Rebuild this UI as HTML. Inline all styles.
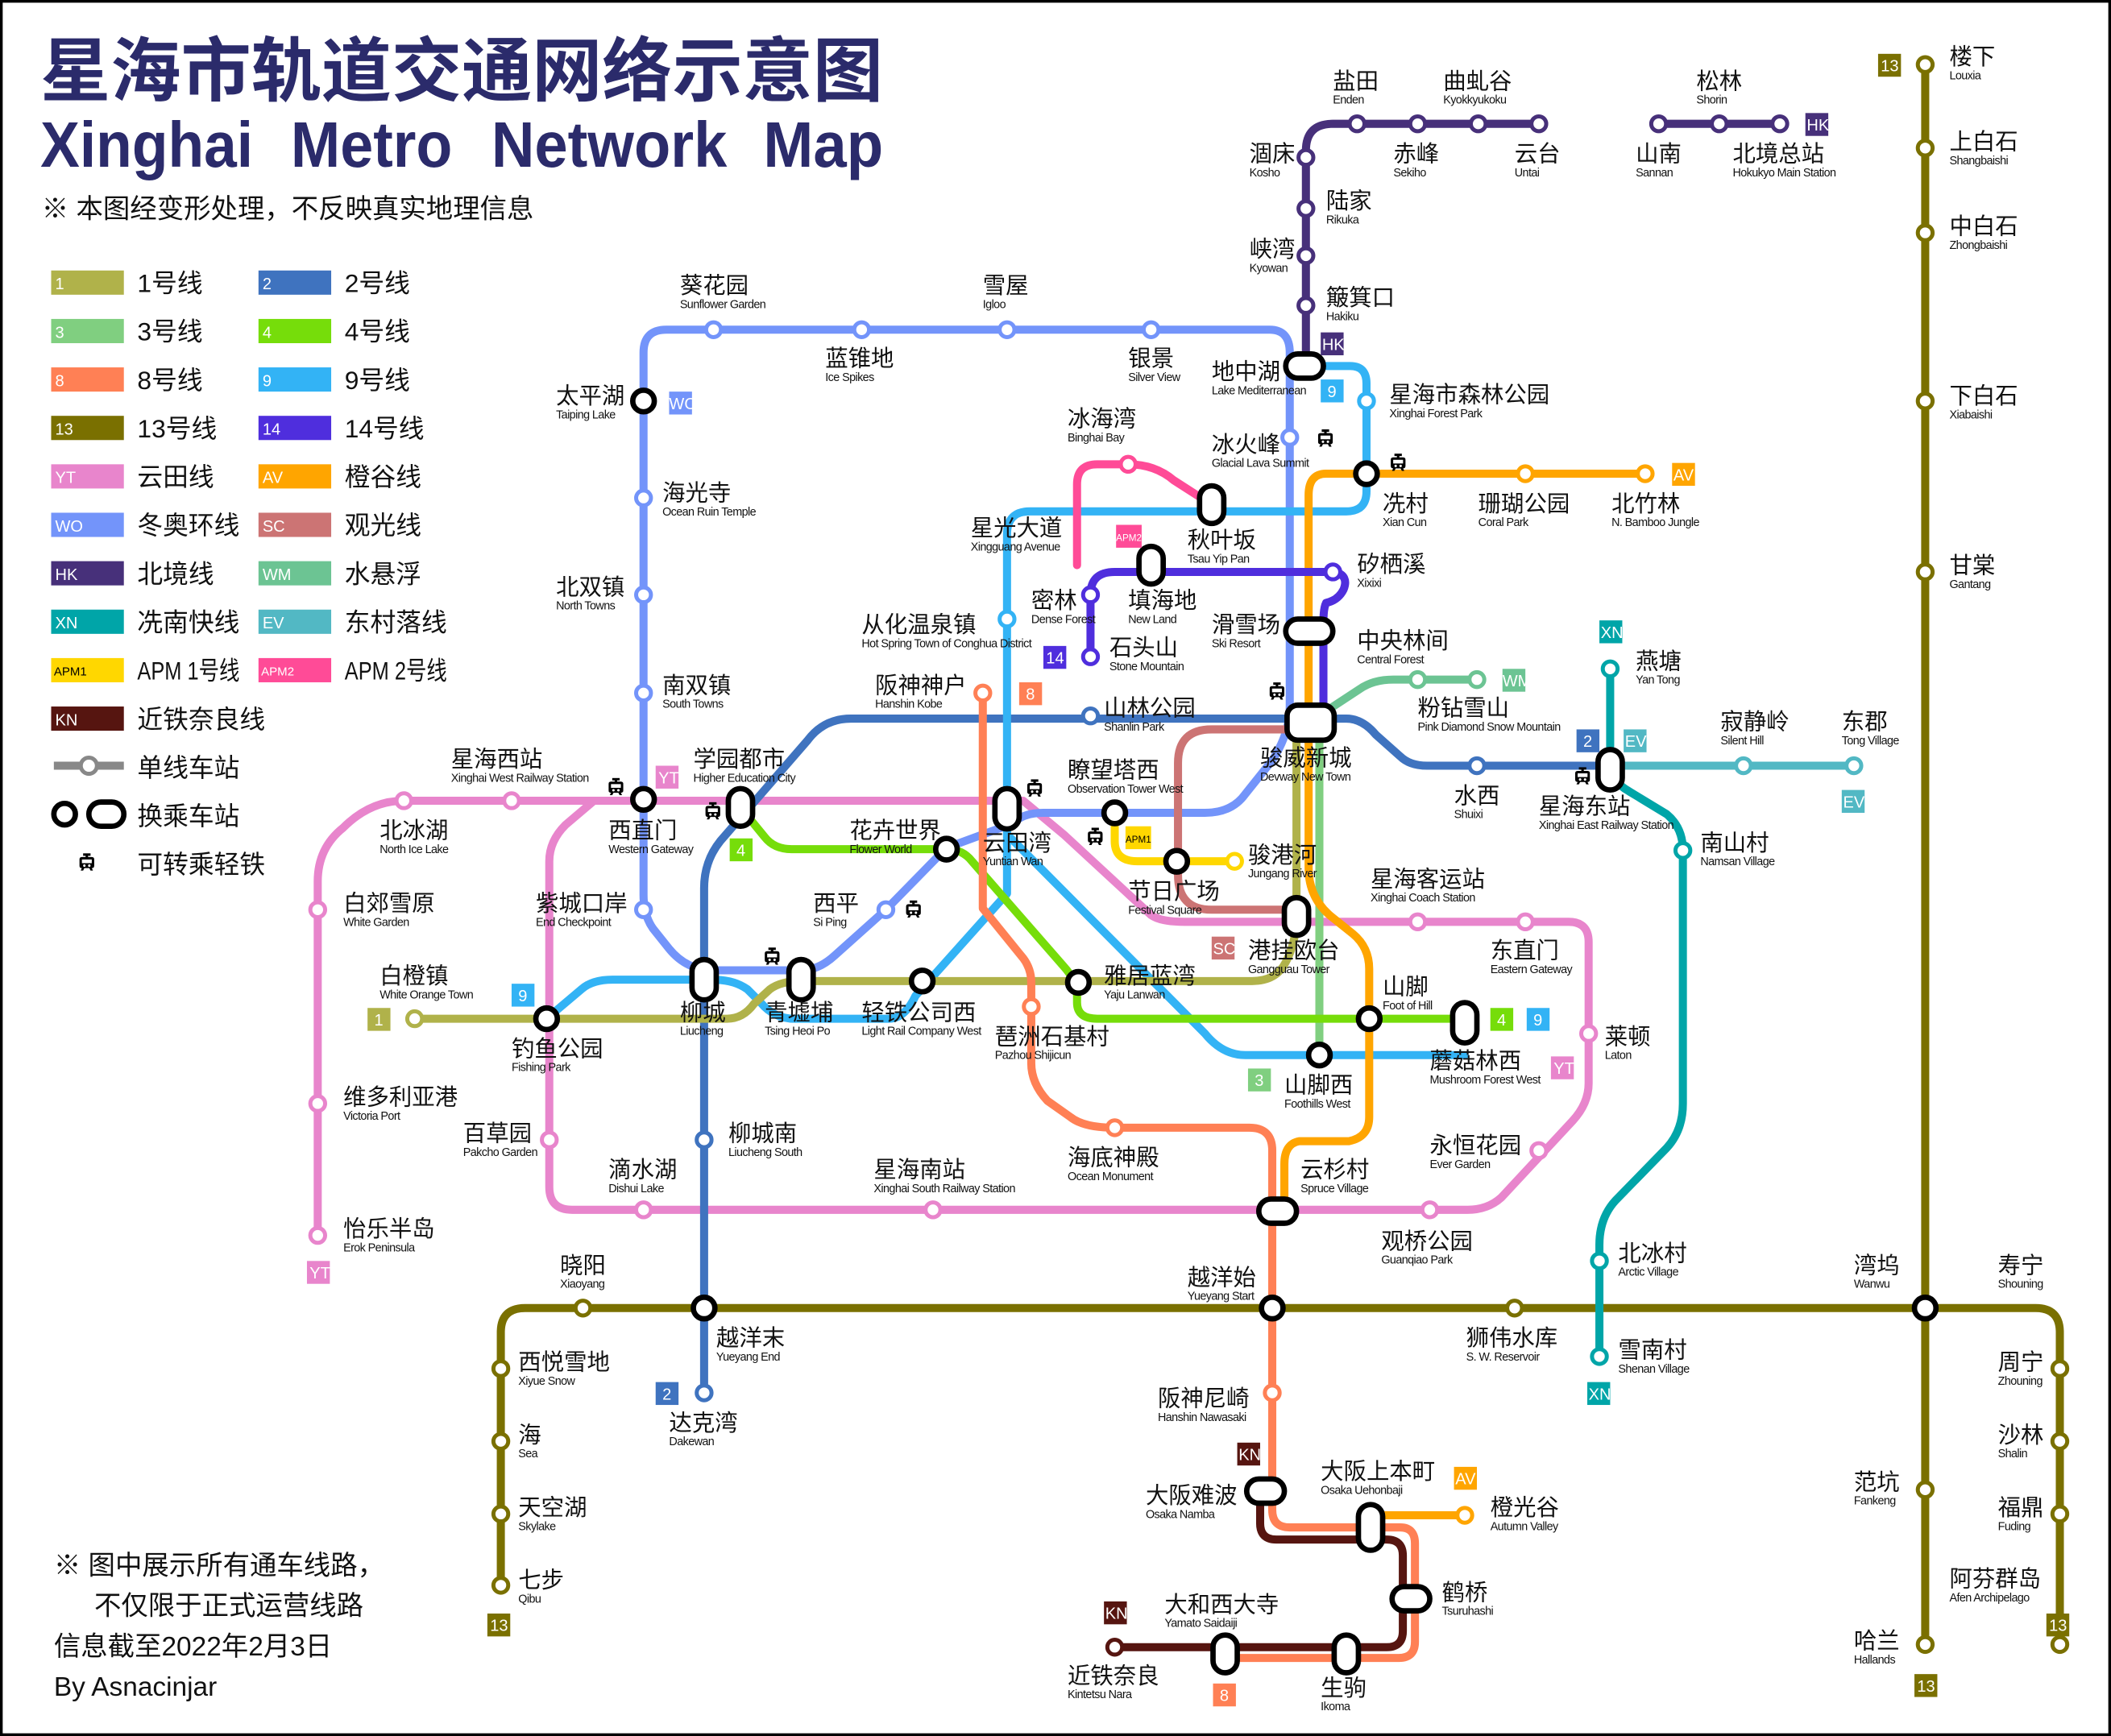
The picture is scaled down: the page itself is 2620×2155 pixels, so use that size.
<!DOCTYPE html>
<html><head><meta charset="utf-8">
<style>
html,body{margin:0;padding:0;background:#fff}
svg{display:block}
.c{font-family:"Liberation Sans","Noto Sans CJK SC",sans-serif;font-size:17px;fill:#111}
.e{font-family:"Liberation Sans Narrow","Liberation Sans",sans-serif;font-size:8.6px;letter-spacing:-0.35px;fill:#111}
.b{font-family:"Liberation Sans Narrow","Liberation Sans",sans-serif;font-size:12px;fill:#fff}
.l{font-family:"Liberation Sans","Noto Sans CJK SC",sans-serif;font-size:19px;fill:#111}
.ln{fill:none;stroke-width:6;stroke-linecap:round;stroke-linejoin:round}
.x{fill:#fff;stroke:#000;stroke-width:4}
</style></head><body>
<svg width="2620" height="2155" viewBox="0 0 1568 1290" preserveAspectRatio="none" xmlns="http://www.w3.org/2000/svg">
<defs>
<symbol id="tr" viewBox="0 0 12 14"><path d="M3,0H9V2H7V3H10Q12,3 12,5V10Q12,12 10,12L11,14H9L8,12H4L3,14H1L2,12Q0,12 0,10V5Q0,3 2,3H5V2H3Z" fill="#000"/><rect x="2" y="5" width="8" height="3" fill="#fff"/><circle cx="4" cy="10" r="1" fill="#fff"/><circle cx="8" cy="10" r="1" fill="#fff"/></symbol>
</defs>
<rect x="1" y="1" width="1566" height="1288" fill="#fff" stroke="#000" stroke-width="2"/>

<!-- Title -->
<text x="30" y="71" font-family="'Liberation Sans','Noto Sans CJK SC',sans-serif" font-weight="bold" font-size="52" fill="#2b2b6b" textLength="626" lengthAdjust="spacingAndGlyphs">星海市轨道交通网络示意图</text>
<text y="124" font-family="'Liberation Sans',sans-serif" font-weight="bold" font-size="48" fill="#2b2b6b"><tspan x="30" textLength="158" lengthAdjust="spacingAndGlyphs">Xinghai</tspan><tspan x="216" textLength="120" lengthAdjust="spacingAndGlyphs">Metro</tspan><tspan x="365" textLength="175" lengthAdjust="spacingAndGlyphs">Network</tspan><tspan x="567" textLength="89" lengthAdjust="spacingAndGlyphs">Map</tspan></text>
<text x="31" y="162" font-family="'Liberation Sans','Noto Sans CJK SC',sans-serif" font-size="20" fill="#111">※ 本图经变形处理，不反映真实地理信息</text>

<!-- Legend -->
<g>
<rect x="38" y="201" width="54" height="18" fill="#b0b24a"/><text class="b" x="41" y="215">1</text><text class="l" x="102" y="217">1号线</text>
<rect x="192" y="201" width="54" height="18" fill="#3f73bf"/><text class="b" x="195" y="215">2</text><text class="l" x="256" y="217">2号线</text>
<rect x="38" y="237" width="54" height="18" fill="#80cf80"/><text class="b" x="41" y="251">3</text><text class="l" x="102" y="253">3号线</text>
<rect x="192" y="237" width="54" height="18" fill="#76dd0a"/><text class="b" x="195" y="251">4</text><text class="l" x="256" y="253">4号线</text>
<rect x="38" y="273" width="54" height="18" fill="#ff8055"/><text class="b" x="41" y="287">8</text><text class="l" x="102" y="289">8号线</text>
<rect x="192" y="273" width="54" height="18" fill="#33b3f5"/><text class="b" x="195" y="287">9</text><text class="l" x="256" y="289">9号线</text>
<rect x="38" y="309" width="54" height="18" fill="#7a7000"/><text class="b" x="41" y="323">13</text><text class="l" x="102" y="325">13号线</text>
<rect x="192" y="309" width="54" height="18" fill="#4f2edd"/><text class="b" x="195" y="323">14</text><text class="l" x="256" y="325">14号线</text>
<rect x="38" y="345" width="54" height="18" fill="#e885cc"/><text class="b" x="41" y="359">YT</text><text class="l" x="102" y="361">云田线</text>
<rect x="192" y="345" width="54" height="18" fill="#ffa500"/><text class="b" x="195" y="359">AV</text><text class="l" x="256" y="361">橙谷线</text>
<rect x="38" y="381" width="54" height="18" fill="#7394fa"/><text class="b" x="41" y="395">WO</text><text class="l" x="102" y="397">冬奥环线</text>
<rect x="192" y="381" width="54" height="18" fill="#cc7474"/><text class="b" x="195" y="395">SC</text><text class="l" x="256" y="397">观光线</text>
<rect x="38" y="417" width="54" height="18" fill="#47307a"/><text class="b" x="41" y="431">HK</text><text class="l" x="102" y="433">北境线</text>
<rect x="192" y="417" width="54" height="18" fill="#6cc493"/><text class="b" x="195" y="431">WM</text><text class="l" x="256" y="433">水悬浮</text>
<rect x="38" y="453" width="54" height="18" fill="#00a5a8"/><text class="b" x="41" y="467">XN</text><text class="l" x="102" y="469">冼南快线</text>
<rect x="192" y="453" width="54" height="18" fill="#52b8c4"/><text class="b" x="195" y="467">EV</text><text class="l" x="256" y="469">东村落线</text>
<rect x="38" y="489" width="54" height="18" fill="#ffd700"/><text class="b" x="40" y="502" style="fill:#000;font-size:9px">APM1</text><text class="l" x="102" y="505" textLength="76" lengthAdjust="spacingAndGlyphs">APM 1号线</text>
<rect x="192" y="489" width="54" height="18" fill="#ff4b97"/><text class="b" x="194" y="502" style="font-size:9px">APM2</text><text class="l" x="256" y="505" textLength="76" lengthAdjust="spacingAndGlyphs">APM 2号线</text>
<rect x="38" y="525" width="54" height="18" fill="#561510"/><text class="b" x="41" y="539">KN</text><text class="l" x="102" y="541">近铁奈良线</text>
<line x1="40" y1="569" x2="92" y2="569" stroke="#888" stroke-width="6"/><circle cx="66" cy="569" r="6" fill="#fff" stroke="#888" stroke-width="3"/><text class="l" x="102" y="577">单线车站</text>
<circle cx="48" cy="605" r="8" class="x"/><rect x="66" y="596" width="26" height="18" rx="9" class="x"/><text class="l" x="102" y="613">换乘车站</text>
<use href="#tr" x="59" y="634" width="11" height="13"/><text class="l" x="102" y="649">可转乘轻铁</text>
</g>

<!-- Lines -->
<g class="ln">
<path stroke="#7a7000" d="M372,1178V990Q372,972 390,972H1512Q1530,972 1530,990V1222"/>
<path stroke="#7a7000" d="M1430,48V1222"/>
<path stroke="#e885cc" d="M236,918V655Q236,630 255,615Q275,595 300,595H760L790,620L855,680Q862,685 880,685H1165Q1180,685 1180,700V805Q1180,820 1168,833L1115,890Q1105,899 1090,899H425Q408,899 408,882V640Q408,625 420,613L440,596"/>
<path stroke="#7394fa" d="M478,298V262Q478,245 495,245H943Q958,245 958,262V525Q958,545 945,565L925,590Q915,604 895,604H775Q760,604 752,612L703,630L658,676L620,710Q608,721 595,721H530Q510,721 497,705L485,690Q478,680 478,665V298"/>
<path stroke="#3f73bf" d="M523,1035V660Q523,640 535,625L600,550Q612,534 632,534H1000Q1012,534 1022,546L1040,562Q1047,569 1060,569H1195"/>
<path stroke="#33b3f5" d="M968,272H1003Q1015,272 1015,285V365Q1015,380 1000,380H765Q748,380 748,397V664L680,740Q672,757 660,757H590Q575,757 565,745L555,735Q545,728 530,728H455Q440,728 432,735L406,757"/>
<path stroke="#33b3f5" d="M748,620L895,768Q908,784 925,784H1088"/>
<path stroke="#b0b24a" d="M308,757H540Q552,757 560,746L572,735Q580,729 595,729H930Q948,729 955,715Q963,700 963,680V537"/>
<path stroke="#80cf80" d="M980,537V783"/>
<path stroke="#76dd0a" d="M550,600L568,622Q575,631 588,631H703Q715,631 722,640L790,718Q800,729 800,740V745Q800,757 815,757H1088"/>
<path stroke="#ff8055" d="M730,515V675L760,712Q766,720 766,730V790Q766,805 778,818L795,830Q805,838 828,838H928Q945,838 945,855V1122Q945,1135 958,1135H1040Q1051,1135 1051,1147V1220Q1051,1232 1039,1232H909"/>
<path stroke="#561510" d="M828,1224H1030Q1042,1224 1042,1212V1156Q1042,1144 1030,1144H948Q936,1144 936,1132V1108"/>
<path stroke="#ffa500" d="M1222,352H985Q972,352 972,368V645Q972,668 990,682L1005,694Q1017,704 1017,720V830Q1017,845 1002,848H965Q954,850 954,865V899"/>
<path stroke="#ffa500" d="M1018,1126H1088"/>
<path stroke="#cc7474" d="M972,542H900Q875,542 875,567V650Q875,676 900,676H963"/>
<path stroke="#ffd700" d="M828,604V625Q828,640 845,640H917"/>
<path stroke="#ff4b97" d="M800,420V360Q800,345 815,345H838Q858,345 872,357L900,375"/>
<path stroke="#4f2edd" d="M810,488V442Q810,425 828,425H992Q1002,428 998,438Q994,446 985,448Q983,452 983,462V537"/>
<path stroke="#6cc493" d="M972,537L1010,512Q1020,505 1035,505H1097"/>
<path stroke="#52b8c4" d="M1195,569H1377"/>
<path stroke="#00a5a8" d="M1196,497V569Q1196,580 1210,588L1238,605Q1250,615 1250,632V820Q1250,840 1238,853L1200,892Q1188,905 1188,925V1008"/>
<path stroke="#47307a" d="M970,272V112Q970,92 990,92H1143"/>
<path stroke="#47307a" d="M1232,92H1322"/>
</g>

<!-- Normal stations -->
<g fill="#fff" stroke-width="3">
<g stroke="#7a7000"><circle cx="1430" cy="48" r="5.5"/><circle cx="1430" cy="110" r="5.5"/><circle cx="1430" cy="173" r="5.5"/><circle cx="1430" cy="298" r="5.5"/><circle cx="1430" cy="425" r="5.5"/><circle cx="1430" cy="1107" r="5.5"/><circle cx="1430" cy="1222" r="5.5"/><circle cx="1530" cy="1017" r="5.5"/><circle cx="1530" cy="1071" r="5.5"/><circle cx="1530" cy="1125" r="5.5"/><circle cx="1530" cy="1222" r="5.5"/><circle cx="433" cy="972" r="5.5"/><circle cx="1125" cy="972" r="5.5"/><circle cx="372" cy="1017" r="5.5"/><circle cx="372" cy="1071" r="5.5"/><circle cx="372" cy="1125" r="5.5"/><circle cx="372" cy="1178" r="5.5"/></g>
<g stroke="#47307a"><circle cx="970" cy="117" r="5.5"/><circle cx="970" cy="155" r="5.5"/><circle cx="970" cy="190" r="5.5"/><circle cx="970" cy="227" r="5.5"/><circle cx="1008" cy="92" r="5.5"/><circle cx="1053" cy="92" r="5.5"/><circle cx="1098" cy="92" r="5.5"/><circle cx="1143" cy="92" r="5.5"/><circle cx="1232" cy="92" r="5.5"/><circle cx="1277" cy="92" r="5.5"/><circle cx="1322" cy="92" r="5.5"/></g>
<g stroke="#7394fa"><circle cx="530" cy="245" r="5.5"/><circle cx="640" cy="245" r="5.5"/><circle cx="748" cy="245" r="5.5"/><circle cx="855" cy="245" r="5.5"/><circle cx="478" cy="370" r="5.5"/><circle cx="478" cy="442" r="5.5"/><circle cx="478" cy="515" r="5.5"/><circle cx="478" cy="676" r="5.5"/><circle cx="958" cy="325" r="5.5"/><circle cx="658" cy="676" r="5.5"/></g>
<g stroke="#33b3f5"><circle cx="1015" cy="298" r="5.5"/><circle cx="748" cy="460" r="5.5"/></g>
<g stroke="#ffa500"><circle cx="1133" cy="352" r="5.5"/><circle cx="1222" cy="352" r="5.5"/><circle cx="1088" cy="1126" r="5.5"/></g>
<g stroke="#3f73bf"><circle cx="810" cy="532" r="5.5"/><circle cx="1097" cy="569" r="5.5"/><circle cx="523" cy="847" r="5.5"/><circle cx="523" cy="1035" r="5.5"/></g>
<g stroke="#ff8055"><circle cx="730" cy="515" r="5.5"/><circle cx="766" cy="748" r="5.5"/><circle cx="828" cy="838" r="5.5"/><circle cx="945" cy="1035" r="5.5"/></g>
<g stroke="#561510"><circle cx="828" cy="1224" r="5.5"/></g>
<g stroke="#e885cc"><circle cx="236" cy="918" r="5.5"/><circle cx="236" cy="820" r="5.5"/><circle cx="236" cy="676" r="5.5"/><circle cx="300" cy="595" r="5.5"/><circle cx="380" cy="595" r="5.5"/><circle cx="408" cy="847" r="5.5"/><circle cx="478" cy="899" r="5.5"/><circle cx="693" cy="899" r="5.5"/><circle cx="1062" cy="899" r="5.5"/><circle cx="1143" cy="855" r="5.5"/><circle cx="1180" cy="768" r="5.5"/><circle cx="1133" cy="685" r="5.5"/><circle cx="1053" cy="685" r="5.5"/></g>
<g stroke="#b0b24a"><circle cx="308" cy="757" r="5.5"/></g>
<g stroke="#ffd700"><circle cx="917" cy="640" r="5.5"/></g>
<g stroke="#ff4b97"><circle cx="838" cy="345" r="5.5"/></g>
<g stroke="#4f2edd"><circle cx="810" cy="442" r="5.5"/><circle cx="810" cy="488" r="5.5"/><circle cx="990" cy="425" r="5.5"/></g>
<g stroke="#6cc493"><circle cx="1053" cy="505" r="5.5"/><circle cx="1097" cy="505" r="5.5"/></g>
<g stroke="#52b8c4"><circle cx="1295" cy="569" r="5.5"/><circle cx="1377" cy="569" r="5.5"/></g>
<g stroke="#00a5a8"><circle cx="1196" cy="497" r="5.5"/><circle cx="1250" cy="632" r="5.5"/><circle cx="1188" cy="937" r="5.5"/><circle cx="1188" cy="1008" r="5.5"/></g>
</g>

<!-- Interchanges -->
<g class="x">
<circle cx="478" cy="298" r="8"/><circle cx="478" cy="594" r="8"/><circle cx="406" cy="757" r="8"/><circle cx="703" cy="631" r="8"/><circle cx="685" cy="729" r="8"/><circle cx="801" cy="730" r="8"/><circle cx="828" cy="604" r="8"/><circle cx="874" cy="640" r="8"/><circle cx="1015" cy="352" r="8"/><circle cx="1017" cy="757" r="8"/><circle cx="980" cy="784" r="8"/><circle cx="1430" cy="972" r="8"/><circle cx="523" cy="972" r="8"/><circle cx="945" cy="972" r="8"/>
<rect x="955" y="263" width="28" height="18" rx="9"/>
<rect x="955" y="460" width="35" height="18" rx="9"/>
<rect x="956" y="524" width="35" height="26" rx="8"/>
<rect x="891" y="361" width="18" height="28" rx="9"/>
<rect x="846" y="406" width="18" height="28" rx="9"/>
<rect x="541" y="586" width="18" height="28" rx="9"/>
<rect x="514" y="713" width="18" height="30" rx="9"/>
<rect x="586" y="713" width="18" height="30" rx="9"/>
<rect x="739" y="586" width="18" height="30" rx="9"/>
<rect x="954" y="667" width="18" height="28" rx="9"/>
<rect x="1079" y="745" width="18" height="30" rx="9"/>
<rect x="1187" y="557" width="18" height="30" rx="9"/>
<rect x="935" y="891" width="28" height="18" rx="9"/>
<rect x="926" y="1099" width="28" height="18" rx="9"/>
<rect x="1009" y="1118" width="18" height="34" rx="9"/>
<rect x="1034" y="1179" width="28" height="18" rx="9"/>
<rect x="901" y="1215" width="18" height="28" rx="9"/>
<rect x="991" y="1215" width="18" height="28" rx="9"/>
</g>

<!-- Badges -->
<g>
<rect x="1395" y="40" width="17" height="17" fill="#7a7000"/><text class="b" x="1397" y="53">13</text>
<rect x="1520" y="1199" width="17" height="17" fill="#7a7000"/><text class="b" x="1522" y="1212">13</text>
<rect x="1422" y="1244" width="17" height="17" fill="#7a7000"/><text class="b" x="1424" y="1257">13</text>
<rect x="362" y="1199" width="17" height="17" fill="#7a7000"/><text class="b" x="364" y="1212">13</text>
<rect x="981" y="247" width="17" height="17" fill="#47307a"/><text class="b" x="982" y="260">HK</text>
<rect x="1341" y="84" width="17" height="17" fill="#47307a"/><text class="b" x="1342" y="97">HK</text>
<rect x="497" y="291" width="17" height="17" fill="#7394fa"/><text class="b" x="497" y="304">WO</text>
<rect x="981" y="282" width="17" height="17" fill="#33b3f5"/><text class="b" x="986" y="295">9</text>
<rect x="380" y="731" width="17" height="17" fill="#33b3f5"/><text class="b" x="385" y="744">9</text>
<rect x="1134" y="749" width="17" height="17" fill="#33b3f5"/><text class="b" x="1139" y="762">9</text>
<rect x="1242" y="344" width="17" height="17" fill="#ffa500"/><text class="b" x="1243" y="357">AV</text>
<rect x="1080" y="1090" width="17" height="17" fill="#ffa500"/><text class="b" x="1081" y="1103">AV</text>
<rect x="829" y="390" width="19" height="17" fill="#ff4b97"/><text class="b" x="829" y="402" style="font-size:7px">APM2</text>
<rect x="836" y="614" width="19" height="17" fill="#ffd700"/><text class="b" x="836" y="626" style="font-size:7px;fill:#000">APM1</text>
<rect x="775" y="480" width="17" height="17" fill="#4f2edd"/><text class="b" x="777" y="493">14</text>
<rect x="757" y="507" width="17" height="17" fill="#ff8055"/><text class="b" x="762" y="520">8</text>
<rect x="901" y="1251" width="17" height="17" fill="#ff8055"/><text class="b" x="906" y="1264">8</text>
<rect x="1116" y="497" width="17" height="17" fill="#6cc493"/><text class="b" x="1116" y="510">WM</text>
<rect x="1188" y="461" width="17" height="17" fill="#00a5a8"/><text class="b" x="1189" y="474">XN</text>
<rect x="1179" y="1027" width="17" height="17" fill="#00a5a8"/><text class="b" x="1180" y="1040">XN</text>
<rect x="1171" y="542" width="17" height="17" fill="#3f73bf"/><text class="b" x="1176" y="555">2</text>
<rect x="487" y="1027" width="17" height="17" fill="#3f73bf"/><text class="b" x="492" y="1040">2</text>
<rect x="1206" y="542" width="17" height="17" fill="#52b8c4"/><text class="b" x="1207" y="555">EV</text>
<rect x="1368" y="587" width="17" height="17" fill="#52b8c4"/><text class="b" x="1369" y="600">EV</text>
<rect x="487" y="569" width="17" height="17" fill="#e885cc"/><text class="b" x="489" y="582">YT</text>
<rect x="1152" y="785" width="17" height="17" fill="#e885cc"/><text class="b" x="1154" y="798">YT</text>
<rect x="228" y="937" width="17" height="17" fill="#e885cc"/><text class="b" x="230" y="950">YT</text>
<rect x="542" y="623" width="17" height="17" fill="#76dd0a"/><text class="b" x="547" y="636">4</text>
<rect x="1107" y="749" width="17" height="17" fill="#76dd0a"/><text class="b" x="1112" y="762">4</text>
<rect x="927" y="794" width="17" height="17" fill="#80cf80"/><text class="b" x="932" y="807">3</text>
<rect x="273" y="749" width="17" height="17" fill="#b0b24a"/><text class="b" x="278" y="762">1</text>
<rect x="900" y="696" width="17" height="17" fill="#cc7474"/><text class="b" x="901" y="709">SC</text>
<rect x="919" y="1072" width="17" height="17" fill="#561510"/><text class="b" x="920" y="1085">KN</text>
<rect x="820" y="1190" width="17" height="17" fill="#561510"/><text class="b" x="821" y="1203">KN</text>
</g>

<!-- Tram icons -->
<g>
<use href="#tr" x="452" y="578" width="11" height="13"/>
<use href="#tr" x="524" y="596" width="11" height="13"/>
<use href="#tr" x="763" y="579" width="11" height="13"/>
<use href="#tr" x="808" y="615" width="11" height="13"/>
<use href="#tr" x="673" y="669" width="11" height="13"/>
<use href="#tr" x="568" y="704" width="11" height="13"/>
<use href="#tr" x="943" y="507" width="11" height="13"/>
<use href="#tr" x="979" y="319" width="11" height="13"/>
<use href="#tr" x="1033" y="337" width="11" height="13"/>
<use href="#tr" x="1170" y="570" width="11" height="13"/>
</g>

<!-- Labels -->
<g>
<text class="c" x="990" y="66">盐田</text><text class="e" x="990" y="77">Enden</text>
<text class="c" x="1072" y="66">曲虬谷</text><text class="e" x="1072" y="77">Kyokkyukoku</text>
<text class="c" x="928" y="120">涸床</text><text class="e" x="928" y="131">Kosho</text>
<text class="c" x="1035" y="120">赤峰</text><text class="e" x="1035" y="131">Sekiho</text>
<text class="c" x="1125" y="120">云台</text><text class="e" x="1125" y="131">Untai</text>
<text class="c" x="985" y="155">陆家</text><text class="e" x="985" y="166">Rikuka</text>
<text class="c" x="928" y="191">峡湾</text><text class="e" x="928" y="202">Kyowan</text>
<text class="c" x="985" y="227">簸箕口</text><text class="e" x="985" y="238">Hakiku</text>
<text class="c" x="1260" y="66">松林</text><text class="e" x="1260" y="77">Shorin</text>
<text class="c" x="1215" y="120">山南</text><text class="e" x="1215" y="131">Sannan</text>
<text class="c" x="1287" y="120">北境总站</text><text class="e" x="1287" y="131">Hokukyo Main Station</text>
<text class="c" x="1448" y="48">楼下</text><text class="e" x="1448" y="59">Louxia</text>
<text class="c" x="1448" y="111">上白石</text><text class="e" x="1448" y="122">Shangbaishi</text>
<text class="c" x="1448" y="174">中白石</text><text class="e" x="1448" y="185">Zhongbaishi</text>
<text class="c" x="1448" y="300">下白石</text><text class="e" x="1448" y="311">Xiabaishi</text>
<text class="c" x="1448" y="426">甘棠</text><text class="e" x="1448" y="437">Gantang</text>
<text class="c" x="505" y="218">葵花园</text><text class="e" x="505" y="229">Sunflower Garden</text>
<text class="c" x="730" y="218">雪屋</text><text class="e" x="730" y="229">Igloo</text>
<text class="c" x="613" y="272">蓝锥地</text><text class="e" x="613" y="283">Ice Spikes</text>
<text class="c" x="838" y="272">银景</text><text class="e" x="838" y="283">Silver View</text>
<text class="c" x="900" y="282">地中湖</text><text class="e" x="900" y="293">Lake Mediterranean</text>
<text class="c" x="1032" y="299">星海市森林公园</text><text class="e" x="1032" y="310">Xinghai Forest Park</text>
<text class="c" x="413" y="300">太平湖</text><text class="e" x="413" y="311">Taiping Lake</text>
<text class="c" x="793" y="317">冰海湾</text><text class="e" x="793" y="328">Binghai Bay</text>
<text class="c" x="900" y="336">冰火峰</text><text class="e" x="900" y="347">Glacial Lava Summit</text>
<text class="c" x="492" y="372">海光寺</text><text class="e" x="492" y="383">Ocean Ruin Temple</text>
<text class="c" x="1027" y="380">冼村</text><text class="e" x="1027" y="391">Xian Cun</text>
<text class="c" x="1098" y="380">珊瑚公园</text><text class="e" x="1098" y="391">Coral Park</text>
<text class="c" x="1197" y="380">北竹林</text><text class="e" x="1197" y="391">N. Bamboo Jungle</text>
<text class="c" x="721" y="398">星光大道</text><text class="e" x="721" y="409">Xingguang Avenue</text>
<text class="c" x="882" y="407">秋叶坂</text><text class="e" x="882" y="418">Tsau Yip Pan</text>
<text class="c" x="1008" y="425">矽栖溪</text><text class="e" x="1008" y="436">Xixixi</text>
<text class="c" x="413" y="442">北双镇</text><text class="e" x="413" y="453">North Towns</text>
<text class="c" x="766" y="452">密林</text><text class="e" x="766" y="463">Dense Forest</text>
<text class="c" x="838" y="452">填海地</text><text class="e" x="838" y="463">New Land</text>
<text class="c" x="640" y="470">从化温泉镇</text><text class="e" x="640" y="481">Hot Spring Town of Conghua District</text>
<text class="c" x="900" y="470">滑雪场</text><text class="e" x="900" y="481">Ski Resort</text>
<text class="c" x="1008" y="482">中央林间</text><text class="e" x="1008" y="493">Central Forest</text>
<text class="c" x="824" y="487">石头山</text><text class="e" x="824" y="498">Stone Mountain</text>
<text class="c" x="1215" y="497">燕塘</text><text class="e" x="1215" y="508">Yan Tong</text>
<text class="c" x="492" y="515">南双镇</text><text class="e" x="492" y="526">South Towns</text>
<text class="c" x="650" y="515">阪神神户</text><text class="e" x="650" y="526">Hanshin Kobe</text>
<text class="c" x="820" y="532">山林公园</text><text class="e" x="820" y="543">Shanlin Park</text>
<text class="c" x="1053" y="532">粉钻雪山</text><text class="e" x="1053" y="543">Pink Diamond Snow Mountain</text>
<text class="c" x="1278" y="542">寂静岭</text><text class="e" x="1278" y="553">Silent Hill</text>
<text class="c" x="1368" y="542">东郡</text><text class="e" x="1368" y="553">Tong Village</text>
<text class="c" x="335" y="570">星海西站</text><text class="e" x="335" y="581">Xinghai West Railway Station</text>
<text class="c" x="515" y="570">学园都市</text><text class="e" x="515" y="581">Higher Education City</text>
<text class="c" x="936" y="569">骏威新城</text><text class="e" x="936" y="580">Devway New Town</text>
<text class="c" x="793" y="578">瞭望塔西</text><text class="e" x="793" y="589">Observation Tower West</text>
<text class="c" x="1080" y="597">水西</text><text class="e" x="1080" y="608">Shuixi</text>
<text class="c" x="1143" y="605">星海东站</text><text class="e" x="1143" y="616">Xinghai East Railway Station</text>
<text class="c" x="282" y="623">北冰湖</text><text class="e" x="282" y="634">North Ice Lake</text>
<text class="c" x="452" y="623">西直门</text><text class="e" x="452" y="634">Western Gateway</text>
<text class="c" x="631" y="623">花卉世界</text><text class="e" x="631" y="634">Flower World</text>
<text class="c" x="730" y="632">云田湾</text><text class="e" x="730" y="643">Yuntian Wan</text>
<text class="c" x="1263" y="632">南山村</text><text class="e" x="1263" y="643">Namsan Village</text>
<text class="c" x="927" y="641">骏港河</text><text class="e" x="927" y="652">Jungang River</text>
<text class="c" x="1018" y="659">星海客运站</text><text class="e" x="1018" y="670">Xinghai Coach Station</text>
<text class="c" x="838" y="668">节日广场</text><text class="e" x="838" y="679">Festival Square</text>
<text class="c" x="255" y="677">白郊雪原</text><text class="e" x="255" y="688">White Garden</text>
<text class="c" x="398" y="677">紫城口岸</text><text class="e" x="398" y="688">End Checkpoint</text>
<text class="c" x="604" y="677">西平</text><text class="e" x="604" y="688">Si Ping</text>
<text class="c" x="927" y="712">港挂欧台</text><text class="e" x="927" y="723">Gangguau Tower</text>
<text class="c" x="1107" y="712">东直门</text><text class="e" x="1107" y="723">Eastern Gateway</text>
<text class="c" x="282" y="731">白橙镇</text><text class="e" x="282" y="742">White Orange Town</text>
<text class="c" x="820" y="731">雅居蓝湾</text><text class="e" x="820" y="742">Yaju Lanwan</text>
<text class="c" x="1027" y="739">山脚</text><text class="e" x="1027" y="750">Foot of Hill</text>
<text class="c" x="505" y="758">柳城</text><text class="e" x="505" y="769">Liucheng</text>
<text class="c" x="568" y="758">青墟埔</text><text class="e" x="568" y="769">Tsing Heoi Po</text>
<text class="c" x="640" y="758">轻铁公司西</text><text class="e" x="640" y="769">Light Rail Company West</text>
<text class="c" x="739" y="776">琶洲石基村</text><text class="e" x="739" y="787">Pazhou Shijicun</text>
<text class="c" x="380" y="785">钓鱼公园</text><text class="e" x="380" y="796">Fishing Park</text>
<text class="c" x="1062" y="794">蘑菇林西</text><text class="e" x="1062" y="805">Mushroom Forest West</text>
<text class="c" x="1192" y="776">莱顿</text><text class="e" x="1192" y="787">Laton</text>
<text class="c" x="954" y="812">山脚西</text><text class="e" x="954" y="823">Foothills West</text>
<text class="c" x="255" y="821">维多利亚港</text><text class="e" x="255" y="832">Victoria Port</text>
<text class="c" x="541" y="848">柳城南</text><text class="e" x="541" y="859">Liucheng South</text>
<text class="c" x="344" y="848">百草园</text><text class="e" x="344" y="859">Pakcho Garden</text>
<text class="c" x="1062" y="857">永恒花园</text><text class="e" x="1062" y="868">Ever Garden</text>
<text class="c" x="793" y="866">海底神殿</text><text class="e" x="793" y="877">Ocean Monument</text>
<text class="c" x="452" y="875">滴水湖</text><text class="e" x="452" y="886">Dishui Lake</text>
<text class="c" x="649" y="875">星海南站</text><text class="e" x="649" y="886">Xinghai South Railway Station</text>
<text class="c" x="966" y="875">云杉村</text><text class="e" x="966" y="886">Spruce Village</text>
<text class="c" x="255" y="919">怡乐半岛</text><text class="e" x="255" y="930">Erok Peninsula</text>
<text class="c" x="1026" y="928">观桥公园</text><text class="e" x="1026" y="939">Guanqiao Park</text>
<text class="c" x="1202" y="937">北冰村</text><text class="e" x="1202" y="948">Arctic Village</text>
<text class="c" x="416" y="946">晓阳</text><text class="e" x="416" y="957">Xiaoyang</text>
<text class="c" x="882" y="955">越洋始</text><text class="e" x="882" y="966">Yueyang Start</text>
<text class="c" x="1377" y="946">湾坞</text><text class="e" x="1377" y="957">Wanwu</text>
<text class="c" x="1484" y="946">寿宁</text><text class="e" x="1484" y="957">Shouning</text>
<text class="c" x="532" y="1000">越洋末</text><text class="e" x="532" y="1011">Yueyang End</text>
<text class="c" x="1089" y="1000">狮伟水库</text><text class="e" x="1089" y="1011">S. W. Reservoir</text>
<text class="c" x="385" y="1018">西悦雪地</text><text class="e" x="385" y="1029">Xiyue Snow</text>
<text class="c" x="1202" y="1009">雪南村</text><text class="e" x="1202" y="1020">Shenan Village</text>
<text class="c" x="1484" y="1018">周宁</text><text class="e" x="1484" y="1029">Zhouning</text>
<text class="c" x="860" y="1045">阪神尼崎</text><text class="e" x="860" y="1056">Hanshin Nawasaki</text>
<text class="c" x="497" y="1063">达克湾</text><text class="e" x="497" y="1074">Dakewan</text>
<text class="c" x="385" y="1072">海</text><text class="e" x="385" y="1083">Sea</text>
<text class="c" x="1484" y="1072">沙林</text><text class="e" x="1484" y="1083">Shalin</text>
<text class="c" x="981" y="1099">大阪上本町</text><text class="e" x="981" y="1110">Osaka Uehonbaji</text>
<text class="c" x="851" y="1117">大阪难波</text><text class="e" x="851" y="1128">Osaka Namba</text>
<text class="c" x="1107" y="1126">橙光谷</text><text class="e" x="1107" y="1137">Autumn Valley</text>
<text class="c" x="1377" y="1107">范坑</text><text class="e" x="1377" y="1118">Fankeng</text>
<text class="c" x="1484" y="1126">福鼎</text><text class="e" x="1484" y="1137">Fuding</text>
<text class="c" x="385" y="1126">天空湖</text><text class="e" x="385" y="1137">Skylake</text>
<text class="c" x="1448" y="1179">阿芬群岛</text><text class="e" x="1448" y="1190">Afen Archipelago</text>
<text class="c" x="385" y="1180">七步</text><text class="e" x="385" y="1191">Qibu</text>
<text class="c" x="1071" y="1189">鹤桥</text><text class="e" x="1071" y="1200">Tsuruhashi</text>
<text class="c" x="865" y="1198">大和西大寺</text><text class="e" x="865" y="1209">Yamato Saidaiji</text>
<text class="c" x="1377" y="1225">哈兰</text><text class="e" x="1377" y="1236">Hallands</text>
<text class="c" x="793" y="1251">近铁奈良</text><text class="e" x="793" y="1262">Kintetsu Nara</text>
<text class="c" x="981" y="1260">生驹</text><text class="e" x="981" y="1271">Ikoma</text>
</g>

<!-- Notes -->
<g font-family="'Liberation Sans','Noto Sans CJK SC',sans-serif" font-size="20" fill="#111">
<text x="40" y="1170">※ 图中展示所有通车线路，</text>
<text x="70" y="1200">不仅限于正式运营线路</text>
<text x="40" y="1230">信息截至2022年2月3日</text>
<text x="40" y="1260">By Asnacinjar</text>
</g>
</svg>
</body></html>
